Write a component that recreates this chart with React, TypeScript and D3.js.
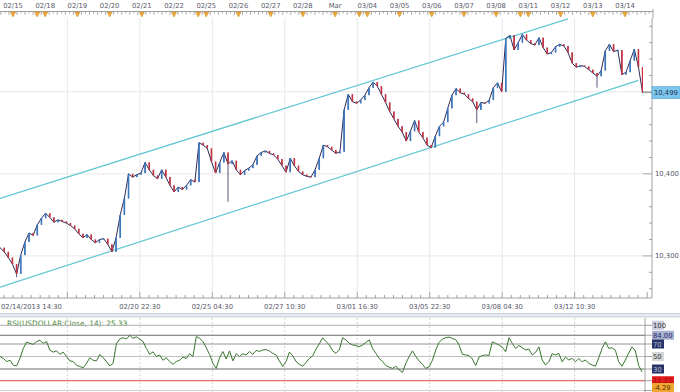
import React, { useEffect, useRef } from 'react';
import * as d3 from 'd3';

const W = 680;
const H = 392;

// top date strip, one entry per trading day
const dayLabels = ['02/15', '02/18', '02/19', '02/20', '02/21', '02/22', '02/25', '02/26', '02/27', '02/28',
  'Mar', '03/04', '03/05', '03/06', '03/07', '03/08', '03/11', '03/12', '03/13', '03/14'];
// sunday session opens (trading-day units)
const sessionMarks = [0.75, 5.75, 10.75, 15.75];

// bottom time axis: [trading day, hour]
const timeTicks = [[1, 16.5], [3, 22.5], [6, 4.5], [8, 10.5], [10, 16.5], [12, 22.5], [15, 4.5], [17, 10.5]];
const timeLabels = ['', '02/20 22:30', '02/25 04:30', '02/27 10:30', '03/01 16:30', '03/05 22:30', '03/08 04:30', '03/12 10:30'];
const firstLabel = '02/14/2013 14:30';

// USDOLLAR closes
const closes = [
  10310, 10305, 10298, 10290, 10278, 10301, 10317, 10328, 10325, 10338,
  10346, 10352, 10347, 10341, 10344, 10342, 10340, 10337, 10333, 10327,
  10322, 10326, 10320, 10316, 10320, 10321, 10314, 10305, 10322, 10350,
  10370, 10400, 10396, 10399, 10401, 10414, 10405, 10398, 10394, 10405,
  10396, 10386, 10378, 10384, 10381, 10386, 10393, 10390, 10438, 10435,
  10431, 10415, 10401, 10414, 10426, 10412, 10416, 10405, 10399, 10404,
  10407, 10411, 10422, 10426, 10428, 10425, 10423, 10418, 10410, 10402,
  10419, 10410, 10403, 10399, 10397, 10396, 10405, 10419, 10435, 10433,
  10429, 10425, 10427, 10478, 10497, 10488, 10486, 10490, 10496, 10505,
  10512, 10507, 10497, 10487, 10476, 10467, 10458, 10451, 10440, 10452,
  10465, 10451, 10444, 10435, 10432, 10446, 10458, 10463, 10480, 10496,
  10504, 10499, 10497, 10492, 10488, 10478, 10487, 10486, 10490, 10505,
  10511, 10500, 10565, 10569, 10551, 10560, 10570, 10563, 10559, 10557,
  10566, 10554, 10546, 10548, 10555, 10558, 10556, 10548, 10535, 10530,
  10532, 10531, 10527, 10523, 10519, 10526, 10550, 10558, 10549, 10551,
  10521, 10524, 10538, 10552, 10530, 10499,
];
// long lower wicks: [candle, low]
const spikeLows = [[4, 10274], [55, 10366], [115, 10462], [144, 10505]];

// channel lines: [candle, price]
const channelUpper = [[0, 10370], [137, 10589]];
const channelLower = [[0, 10262], [154, 10514]];

const priceTicks = [10300, 10400, 10500];
const lastPrice = '10,499';

// RSI(14)
const rsi = [
  50, 47, 42, 44, 36, 35, 47, 63, 73, 71,
  69.5, 74, 76, 71, 74, 60, 57, 59, 53.5, 57,
  50, 43, 42, 36, 34, 32, 39, 48, 44, 43,
  53.5, 48, 42, 35, 39, 71, 78, 80, 78, 84,
  79, 81.5, 78, 74, 63, 53.5, 57.5, 50, 52.5, 44,
  48, 42, 37.5, 42, 44, 49, 47, 54.5, 50, 82,
  79, 74, 64, 53.5, 39, 31, 48, 58, 46, 59,
  43, 54.5, 50, 54.5, 52.5, 58, 53.5, 60, 58, 60.5,
  61, 59, 55, 52.5, 43, 34, 42, 57, 51, 42,
  37.5, 34.5, 40.5, 47, 51, 62, 70.5, 80, 74, 68.5,
  59, 55, 60.5,
  80, 76.5, 71, 68.5, 67.5, 65.5, 68.5, 72.5, 76.5, 63,
  55, 47, 42, 35.5, 33, 31, 34.5, 28.5, 24.5, 39,
  50, 59, 50, 43, 37.5, 31, 33.5, 44, 60.5, 72.5,
  78, 80, 81, 79, 77, 68.5, 53.5, 52.5, 51.5, 46,
  35.5, 49, 51.5, 52.5, 51.5, 73.5, 71, 68.5, 65, 57.5,
  80, 71, 63, 67.5, 64, 60.5, 62, 52.5, 56.5, 65.5,
  44.5, 36.5, 41.5, 54.5, 52.5, 55, 41.5, 49, 44.5, 47,
  41.5, 47, 41.5, 44.5, 39, 36.5, 34.5, 48, 63, 73.5,
  63, 64, 60, 41.5, 34.5, 44.5, 55.5, 65.5, 59, 35.5,
  25.3,
];
const rsiLevels = [100, 84, 70, 50, 30, 11.25, -4.29];
const rsiLevelColors = ['#a8a8a8', '#5a5a5a', '#888888', '#b8b8b8', '#5a5a5a', '#d83030', '#c8c8c8'];
const rsiBadges = [
  { v: 100, text: '100', fill: '#c9ccdc', color: '#333' },
  { v: 84, text: '84.00', fill: '#a9b1d2', color: '#1d2b66' },
  { v: 70, text: '70', fill: '#27346a', color: '#b8bcd0' },
  { v: 50, text: '50', fill: '#d6d6d6', color: '#333' },
  { v: 30, text: '30', fill: '#27346a', color: '#b8bcd0' },
  { v: 11.25, text: '11.25', fill: '#e21c1c', color: '#a01010' },
  { v: -4.29, text: '-4.29', fill: '#f2a632', color: '#5a3000' },
];

const App = () => {
  const svgRef = useRef(null);

  useEffect(() => {
    const svg = d3.select(svgRef.current);
    svg.selectAll('*').remove();

    const font = 'DejaVu Sans, Verdana, sans-serif';
    const plot = { left: 0, right: 643, top: 18, bottom: 292 };
    const axisX = 652;

    const dayX = d3.scaleLinear().domain([0, 19]).range([13, 625]);
    const x = d3.scaleLinear().domain([0, closes.length - 1]).range([0, 642.6]);
    const y = d3.scaleLinear().domain([10256, 10590]).range([plot.bottom, plot.top]);
    const gridX = timeTicks.map(([d, h]) => dayX(d + h / 24));

    svg.append('rect').attr('width', W).attr('height', H).attr('fill', '#fff');

    // ---- top date strip
    const top = svg.append('g');
    top.selectAll('text').data(dayLabels).enter().append('text')
      .attr('x', (d, i) => dayX(i)).attr('y', 7.5)
      .attr('text-anchor', 'middle').attr('font-size', 6.8).attr('font-family', font)
      .attr('fill', '#5a5a6a').text(d => d);
    top.append('line').attr('x1', 0).attr('x2', axisX + 1).attr('y1', 11.5).attr('y2', 11.5)
      .attr('stroke', '#8a8a8a').attr('stroke-width', 0.8);
    const minor = d3.range(-0.375, 20, 0.125).filter(d => dayX(d) >= 0 && dayX(d) <= axisX);
    top.selectAll('.mt').data(minor).enter().append('line')
      .attr('x1', d => dayX(d)).attr('x2', d => dayX(d))
      .attr('y1', 11.5).attr('y2', (d, i) => (i % 2 === 0 ? 15 : 13.5))
      .attr('stroke', '#8a8a8a').attr('stroke-width', 0.7);
    top.append('line').attr('x1', axisX + 1).attr('x2', axisX + 1).attr('y1', 9).attr('y2', 18)
      .attr('stroke', '#8a8a8a').attr('stroke-width', 0.8);
    const marks = d3.range(dayLabels.length).concat(sessionMarks);
    top.selectAll('.mk').data(marks).enter().append('path')
      .attr('d', d => `M${dayX(d) - 2.6},12 L${dayX(d) + 2.6},12 L${dayX(d)},17 Z`)
      .attr('fill', '#eda93c').attr('stroke', '#c98a22').attr('stroke-width', 0.5);

    // ---- main panel grid
    const grid = svg.append('g');
    grid.selectAll('.gx').data(gridX).enter().append('line')
      .attr('x1', d => d).attr('x2', d => d).attr('y1', plot.top).attr('y2', plot.bottom)
      .attr('stroke', '#e8e8e8');
    grid.selectAll('.gy').data(priceTicks).enter().append('line')
      .attr('x1', plot.left).attr('x2', plot.right).attr('y1', d => y(d)).attr('y2', d => y(d))
      .attr('stroke', '#e8e8e8');

    svg.append('clipPath').attr('id', 'plotclip').append('rect')
      .attr('x', plot.left).attr('y', plot.top)
      .attr('width', plot.right - plot.left).attr('height', plot.bottom - plot.top);
    const g = svg.append('g').attr('clip-path', 'url(#plotclip)');

    // channel
    const chLine = d3.line().x(d => x(d[0])).y(d => y(d[1]));
    [channelUpper, channelLower].forEach(c => {
      g.append('path').attr('d', chLine(c)).attr('fill', 'none')
        .attr('stroke', '#5fc6d2').attr('stroke-width', 1.2);
    });

    // candles
    const candles = closes.map((c, i) => {
      const o = i === 0 ? c : closes[i - 1];
      const spike = spikeLows.find(s => s[0] === i);
      return { i, o, c, low: spike ? spike[1] : Math.min(o, c), high: Math.max(o, c) };
    });
    g.append('path')
      .attr('d', d3.line().x((d, i) => x(i)).y(d => y(d))(closes))
      .attr('fill', 'none').attr('stroke', '#2e2c5a').attr('stroke-width', 1);
    g.selectAll('.wick').data(candles).enter().append('line')
      .attr('x1', d => x(d.i)).attr('x2', d => x(d.i))
      .attr('y1', d => y(d.high)).attr('y2', d => y(d.low))
      .attr('stroke', '#2e2c5a').attr('stroke-width', 0.8);
    g.selectAll('.body').data(candles).enter().append('rect')
      .attr('x', d => x(d.i) - 0.8).attr('width', 1.6)
      .attr('y', d => y(Math.max(d.o, d.c)))
      .attr('height', d => Math.max(1, Math.abs(y(d.o) - y(d.c))))
      .attr('fill', d => (d.c >= d.o ? '#3a78c0' : '#c8323e'));

    // right price axis
    const ra = svg.append('g');
    ra.append('line').attr('x1', axisX).attr('x2', axisX).attr('y1', plot.top).attr('y2', 298)
      .attr('stroke', '#8a8a8a').attr('stroke-width', 0.8);
    const pMinor = d3.range(10260, 10590, 20);
    ra.selectAll('.pm').data(pMinor).enter().append('line')
      .attr('x1', d => (d % 100 === 0 ? plot.right : axisX - 3)).attr('x2', axisX)
      .attr('y1', d => y(d)).attr('y2', d => y(d))
      .attr('stroke', '#8a8a8a').attr('stroke-width', 0.8);
    ra.selectAll('.pl').data(priceTicks.filter(d => d !== 10500)).enter().append('text')
      .attr('x', axisX + 3).attr('y', d => y(d) + 2.4)
      .attr('font-size', 6.8).attr('font-family', font).attr('fill', '#5a5a6a')
      .text(d => d3.format(',')(d));
    const ly = y(closes[closes.length - 1]);
    ra.append('line').attr('x1', plot.right).attr('x2', axisX).attr('y1', ly).attr('y2', ly)
      .attr('stroke', '#8a8a8a').attr('stroke-width', 0.8);
    ra.append('rect').attr('x', axisX).attr('y', ly - 6).attr('width', 28).attr('height', 12)
      .attr('fill', '#7cc6ee').attr('stroke', '#4aa2d6').attr('stroke-width', 0.6);
    ra.append('text').attr('x', axisX + 2).attr('y', ly + 2.5)
      .attr('font-size', 6.8).attr('font-family', font).attr('fill', '#1c3550').text(lastPrice);

    // bottom time axis
    const ba = svg.append('g');
    ba.append('line').attr('x1', 0).attr('x2', axisX).attr('y1', 298).attr('y2', 298)
      .attr('stroke', '#8a8a8a').attr('stroke-width', 0.8);
    const step = (gridX[1] - gridX[0]) / 8;
    const bMinor = d3.range(gridX[0] - 7 * step, axisX, step);
    ba.selectAll('.bm').data(bMinor).enter().append('line')
      .attr('x1', d => d).attr('x2', d => d).attr('y1', 298)
      .attr('y2', (d, i) => ((i - 7) % 8 === 0 ? 292 : 295))
      .attr('stroke', '#8a8a8a').attr('stroke-width', 0.8);
    ba.selectAll('.bl').data(timeLabels).enter().append('text')
      .attr('x', (d, i) => gridX[i]).attr('y', 308.5)
      .attr('text-anchor', 'middle').attr('font-size', 6.8).attr('font-family', font)
      .attr('fill', '#5a5a6a').text(d => d);
    ba.append('text').attr('x', 1).attr('y', 308.5)
      .attr('font-size', 6.8).attr('font-family', font).attr('fill', '#5a5a6a').text(firstLabel);

    // ---- RSI panel
    const rY = d3.scaleLinear().domain([30, 70]).range([369, 344]);
    const rX = d3.scaleLinear().domain([0, rsi.length - 1]).range([0, 642]);
    const rp = svg.append('g');
    rp.append('rect').attr('x', 0).attr('y', 313).attr('width', W).attr('height', 4)
      .attr('fill', '#e7eaf0');
    [313.5, 317].forEach(v => rp.append('line').attr('x1', 0).attr('x2', W).attr('y1', v).attr('y2', v)
      .attr('stroke', '#c2c7d2').attr('stroke-width', 0.8));
    rp.selectAll('.rg').data(gridX).enter().append('line')
      .attr('x1', d => d).attr('x2', d => d).attr('y1', 318).attr('y2', H)
      .attr('stroke', '#d4d4d4').attr('stroke-dasharray', '2,2');
    rp.append('text').attr('x', 7).attr('y', 326.2)
      .attr('font-size', 7.4).attr('font-family', font).attr('fill', '#4f8a3c')
      .text('RSI(USDOLLAR:Close, 14): 25.33');
    rp.selectAll('.rl').data(rsiLevels).enter().append('line')
      .attr('x1', 0).attr('x2', 645).attr('y1', d => rY(d)).attr('y2', d => rY(d))
      .attr('stroke', (d, i) => rsiLevelColors[i]).attr('stroke-width', 0.9);
    rp.append('path')
      .attr('d', d3.line().x((d, i) => rX(i)).y(d => rY(d))(rsi))
      .attr('fill', 'none').attr('stroke', '#3a7630').attr('stroke-width', 1);
    rp.append('line').attr('x1', 645).attr('x2', 645).attr('y1', 318).attr('y2', H)
      .attr('stroke', '#8a8a8a').attr('stroke-width', 0.8);
    const badges = rp.selectAll('.bd').data(rsiBadges).enter().append('g');
    badges.append('line').attr('x1', 645).attr('x2', 652).attr('y1', d => rY(d.v)).attr('y2', d => rY(d.v))
      .attr('stroke', '#8a8a8a').attr('stroke-width', 0.8);
    badges.append('rect')
      .attr('x', 652).attr('y', d => Math.min(rY(d.v) - 4.5, H - 9))
      .attr('width', d => (d.text.length > 3 ? 22 : 12)).attr('height', 9)
      .attr('fill', d => d.fill);
    badges.append('text')
      .attr('x', 653).attr('y', d => Math.min(rY(d.v), H - 4.5) + 2.5)
      .attr('font-size', 6.8).attr('font-family', font).attr('fill', d => d.color)
      .text(d => d.text);
  }, []);

  return (
    <svg ref={svgRef} width={W} height={H}
      style={{ position: 'absolute', left: 0, top: 0, display: 'block' }} />
  );
};

export default App;
